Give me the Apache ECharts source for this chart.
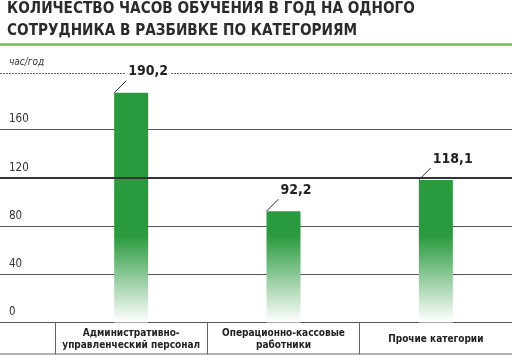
<!DOCTYPE html>
<html><head><meta charset="utf-8">
<script src="https://cdn.jsdelivr.net/npm/echarts@6/dist/echarts.min.js"></script>
<style>html,body{margin:0;padding:0;background:#fff}#c{width:512px;height:356px}</style>
</head><body><div id="c"></div>
<script>
const titleText = 'КОЛИЧЕСТВО ЧАСОВ ОБУЧЕНИЯ В ГОД НА ОДНОГО\nСОТРУДНИКА В РАЗБИВКЕ ПО КАТЕГОРИЯМ';
const unitLabel = 'час/год';
const categories = ['Административно-\nуправленческий персонал', 'Операционно-кассовые\nработники', 'Прочие категории'];
const values = [190.2, 92.2, 118.1];
const valueLabels = ['190,2', '92,2', '118,1'];
const yMin = 0, yMax = 200, yInterval = 40;
const highlightLine = 120;

const FONT = '"DejaVu Sans Condensed", "Liberation Sans Narrow", sans-serif';
const chart = echarts.init(document.getElementById('c'), null, {renderer: 'canvas'});
const gridTop = 81, gridBottom = 33.5;

chart.setOption({
  animation: false,
  backgroundColor: '#fff',
  title: {
    text: titleText, left: 2, top: -7,
    textStyle: {fontFamily: FONT, fontWeight: 'bold', fontSize: 15.2, lineHeight: 22, color: '#2b2b2b'}
  },
  grid: [
    {left: 0, right: 0, top: gridTop, bottom: gridBottom},
    {left: 55, right: 0, top: gridTop, bottom: gridBottom}
  ],
  xAxis: [
    {gridIndex: 0, type: 'value', min: 0, max: 1, show: true,
     axisLine: {show: true, onZero: false, lineStyle: {color: '#555', width: 1}},
     axisTick: {show: false}, axisLabel: {show: false}, splitLine: {show: false}},
    {gridIndex: 1, type: 'category', data: categories, boundaryGap: true,
     axisLine: {show: false},
     axisTick: {show: true, length: 32, inside: false, lineStyle: {color: '#666', width: 1}},
     axisLabel: {interval: 0, margin: 17, verticalAlign: 'middle', fontFamily: FONT, fontSize: 10,
                 fontWeight: 'bold', lineHeight: 11.5, color: '#222'}}
  ],
  yAxis: [
    {gridIndex: 0, type: 'value', min: yMin, max: yMax, interval: yInterval,
     name: unitLabel, nameLocation: 'end', nameGap: 14,
     nameTextStyle: {fontFamily: FONT, fontStyle: 'italic', fontSize: 10, color: '#333', align: 'left', padding: [0, 0, 0, 9]},
     axisLine: {show: false}, axisTick: {show: false},
     axisLabel: {inside: true, margin: 9, verticalAlign: 'bottom', padding: [0, 0, 4, 0],
                 showMaxLabel: false, fontFamily: FONT, fontSize: 11.5, color: '#333'},
     splitLine: {show: true, showMaxLine: false, showMinLine: false, lineStyle: {color: '#555', width: 1}}},
    {gridIndex: 1, type: 'value', min: yMin, max: yMax, interval: yInterval, show: false}
  ],
  graphic: [
    {type: 'line', shape: {x1: 0, y1: 44.5, x2: 512, y2: 44.5}, style: {stroke: '#6cbf4b', lineWidth: 2.5}},
    {type: 'line', z: 0, shape: {x1: 0, y1: 73.5, x2: 512, y2: 73.5}, style: {stroke: '#666', lineWidth: 1, lineDash: [2, 1]}},
    {type: 'line', shape: {x1: 0, y1: 354, x2: 512, y2: 354}, style: {stroke: '#666', lineWidth: 1}}
  ],
  series: [
    {type: 'line', xAxisIndex: 0, yAxisIndex: 0, data: [], silent: true,
     markLine: {silent: true, symbol: 'none', label: {show: false},
                lineStyle: {color: '#333', width: 2, type: 'solid'},
                data: [{yAxis: highlightLine}]}},
    {type: 'bar', xAxisIndex: 1, yAxisIndex: 1, barWidth: 34, z: 3,
     data: values,
     itemStyle: {color: {type: 'linear', global: true, x: 0, y: 236, x2: 0, y2: 322,
                 colorStops: [{offset: 0, color: '#2a9a3e'}, {offset: 1, color: '#ffffff'}]}},
     label: {show: true, position: [11, -21], align: 'left', verticalAlign: 'middle',
             formatter: p => valueLabels[p.dataIndex],
             fontFamily: FONT, fontWeight: 'bold', fontSize: 14, color: '#222',
             backgroundColor: '#fff', padding: [1, 2, 1, 3]}},
    {type: 'custom', xAxisIndex: 1, yAxisIndex: 1, z: 4, silent: true,
     data: values.map((v, i) => [i, v]),
     renderItem: (params, api) => {
       const p = api.coord([api.value(0), api.value(1)]);
       const x0 = p[0] - 17;
       return {type: 'line', shape: {x1: x0, y1: p[1], x2: x0 + 12, y2: p[1] - 12},
               style: {stroke: '#333', lineWidth: 1}};
     }}
  ]
});
</script></body></html>
